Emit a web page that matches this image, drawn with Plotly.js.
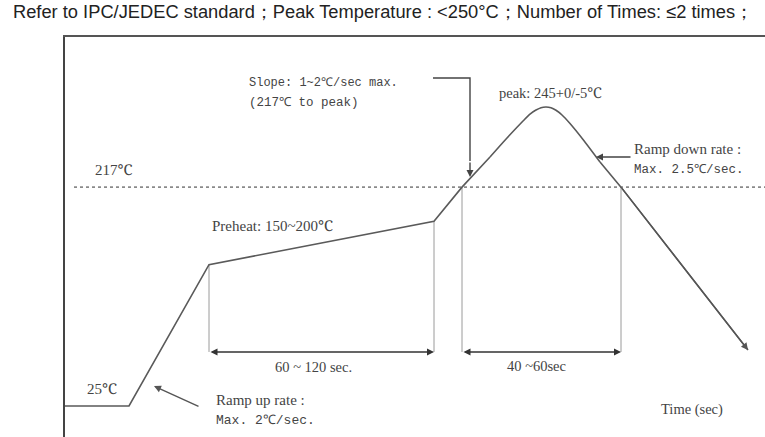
<!DOCTYPE html>
<html>
<head>
<meta charset="utf-8">
<script src="https://cdn.plot.ly/plotly-3.0.1.min.js"></script>
<style>html,body{margin:0;padding:0;background:#fff;}#chart{width:765px;height:437px;}</style>
</head>
<body>
<div id="chart"></div>
<script>
// Schematic reflow profile (time in s, temperature in °C, schematic scale)
const profileTime = [0, 25.6, 57.6, 147.6, 158.8, 170, 176.8, 183.2, 186, 188.4, 190.4, 192.4, 194.4, 196.4, 198.8, 202, 207.2, 214, 222.4, 273.2];
const profileTemp = [25, 25, 149, 187, 217, 243.4, 260.1, 275.0, 281.1, 284.6, 286.7, 287.3, 286.6, 284.4, 280.3, 272.8, 258.8, 239.0, 217, 74.1];
// indices bounding the rounded peak section
const peakStart = 5, peakEnd = 17;

const liquidusTemp = 217;
const liquidusSpan = [3.6, 280];

// dimension marker lines (time, top temperature)
const markerTimes = [57.6, 147.6, 158.8, 222.4];
const markerTops = [149, 187, 217, 217];
const dimensionLevel = 72.4;

// slope bracket
const bracketTime = [147.2, 162, 162];
const bracketTemp = [312.7, 312.7, 240];

const titleText = "Refer to IPC/JEDEC standard；Peak Temperature : &lt;250°C；Number of Times: ≤2 times；";

const serif = "Liberation Serif, Noto Serif, DejaVu Serif, serif";
const mono = "Liberation Mono, DejaVu Sans Mono, monospace";
const txtColor = "#444";

const vx = [], vy = [];
markerTimes.forEach((t, i) => { vx.push(t, t, null); vy.push(markerTops[i], dimensionLevel, null); });

const profLine = { color: "#5a5a5a", width: 1.6 };
const n = profileTime.length;

const traces = [
  { x: liquidusSpan, y: [liquidusTemp, liquidusTemp], mode: "lines",
    line: { color: "#8a8a8a", width: 1.6, dash: "dot" } },
  { x: vx, y: vy, mode: "lines", line: { color: "#9a9a9a", width: 1 } },
  { x: profileTime.slice(0, peakStart + 1), y: profileTemp.slice(0, peakStart + 1), mode: "lines", line: profLine },
  { x: profileTime.slice(peakStart, peakEnd + 1), y: profileTemp.slice(peakStart, peakEnd + 1), mode: "lines",
    line: Object.assign({ shape: "spline", smoothing: 0.8 }, profLine) },
  { x: profileTime.slice(peakEnd), y: profileTemp.slice(peakEnd), mode: "lines", line: profLine },
  { x: bracketTime, y: bracketTemp, mode: "lines", line: { color: "#444", width: 1.4 } }
];

function txt(x, y, text, family, size, xanchor) {
  return { x, y, xref: "x", yref: "y", text, showarrow: false, xanchor: xanchor || "left",
    yanchor: "middle", font: { family, size, color: txtColor } };
}
function arrow(x, y, ax, ay, side, color) {
  return { x, y, ax, ay, xref: "x", yref: "y", axref: "x", ayref: "y", text: "", showarrow: true,
    arrowhead: 2, arrowsize: 1, arrowwidth: 1.4, arrowcolor: color || "#333", arrowside: side || "end",
    standoff: 0, startstandoff: 0 };
}

const annotations = [
  txt(72.8, 308.3, "Slope: 1~2℃/sec max.", mono, 12),
  txt(72.8, 290.8, "(217℃ to peak)", mono, 12.5),
  txt(11.2, 232, "217℃", serif, 15),
  txt(58, 182.9, "Preheat: 150~200℃", serif, 15),
  txt(172.8, 299.6, "peak: 245+0/-5℃", serif, 14.5),
  txt(226.8, 250.4, "Ramp down rate :", serif, 15),
  txt(226.8, 232, "Max. 2.5℃/sec.", mono, 12.5),
  txt(8, 39.9, "25℃", serif, 15),
  txt(59.6, 30.3, "Ramp up rate :", serif, 15),
  txt(59.6, 12.7, "Max. 2℃/sec.", mono, 13),
  txt(99.2, 59.2, "60 ~ 120 sec.", serif, 14.5, "center"),
  txt(188.4, 60.1, "40 ~60sec", serif, 14.5, "center"),
  txt(237.6, 21.5, "Time (sec)", serif, 14.5),
  arrow(markerTimes[1], dimensionLevel, markerTimes[0], dimensionLevel, "end+start"),
  arrow(markerTimes[3], dimensionLevel, markerTimes[2], dimensionLevel, "end+start"),
  arrow(162, 225.9, 162, 240, "end", "#444"),
  arrow(212.4, 243.4, 226.8, 243.4, "end", "#444"),
  arrow(35.6, 42.5, 54, 24.1, "end", "#555"),
  arrow(profileTime[n - 1], profileTemp[n - 1], profileTime[n - 2], profileTemp[n - 2], "end", "#555")
];

const layout = {
  width: 765, height: 437,
  margin: { l: 65, r: 0, t: 37, b: 0, pad: 0 },
  paper_bgcolor: "#fff", plot_bgcolor: "#fff",
  showlegend: false, hovermode: false,
  title: { text: titleText, x: 13 / 765, xanchor: "left", xref: "container", yref: "container",
    y: 1 - 12 / 437, yanchor: "middle", font: { family: "Liberation Sans, Arial, sans-serif", size: 18.3, color: "#222" } },
  xaxis: { range: [0, 280], side: "top", showline: true, linecolor: "#555", linewidth: 1.6,
    showgrid: false, zeroline: false, showticklabels: false, ticks: "" },
  yaxis: { range: [-2.2, 348.7], showline: true, linecolor: "#444", linewidth: 2.2,
    showgrid: false, zeroline: false, showticklabels: false, ticks: "" },
  annotations
};

Plotly.newPlot("chart", traces, layout, { staticPlot: true, displayModeBar: false });
</script>
</body>
</html>
